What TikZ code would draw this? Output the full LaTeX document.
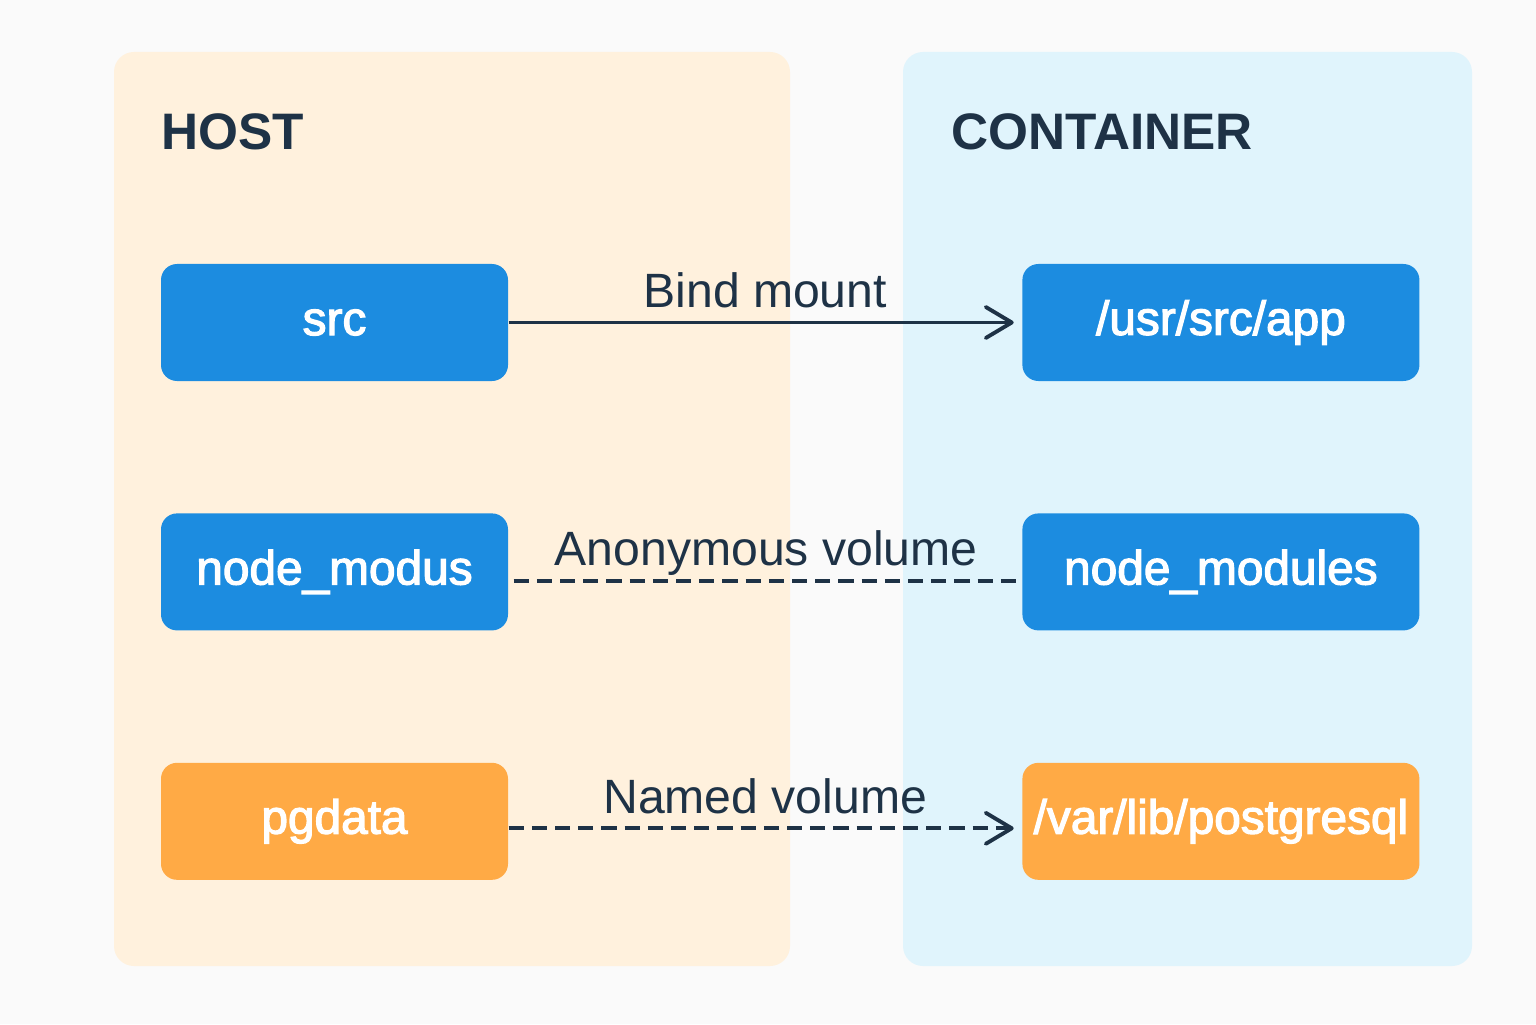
\documentclass[tikz,border=0pt]{standalone}
\usepackage{fontspec}
\setmainfont{Liberation Sans}
\newfontfamily\boxfont[FakeBold=2.5]{Liberation Sans}
\usepackage{xcolor}
\usepackage{tikz}
\usetikzlibrary{arrows.meta, positioning}

\definecolor{pagebg}{HTML}{FAFAFA}
\definecolor{hostbg}{HTML}{FFF1DD}
\definecolor{ctrbg}{HTML}{E0F4FC}
\definecolor{mountblue}{HTML}{1C8CE0}
\definecolor{dataorange}{HTML}{FFAA45}
\definecolor{ink}{HTML}{1E3246}

\tikzset{
    panel/.style={
        rectangle,
        draw=none,
        rounded corners=0.2cm
    },
    paneltitle/.style={
        anchor=west,
        text=ink,
        font=\fontsize{14.6}{18}\selectfont\bfseries
    },
    mountbox/.style={
        rectangle,
        draw=none,
        rounded corners=0.16cm,
        minimum height=1.17cm,
        inner xsep=1pt,
        fill=mountblue,
        text=white,
        font=\boxfont\fontsize{13.6}{16}\selectfont
    },
    databox/.style={
        mountbox,
        fill=dataorange
    },
    link/.style={
        draw=ink,
        line width=1.1pt,
        -{Straight Barb[length=2.6mm, width=3.1mm, line cap=round, line join=round]},
        shorten >=0.08cm
    },
    dashlink/.style={
        link,
        dash pattern=on 4.3pt off 2.3pt
    },
    linklabel/.style={
        midway,
        anchor=base,
        yshift=0.15cm,
        inner sep=0pt,
        text=ink,
        font=\fontsize{13.7}{16}\selectfont
    }
}

\begin{document}
\begin{tikzpicture}

% Background and panels
\fill[pagebg] (0,0) rectangle (15.36,10.24);
\useasboundingbox (0,0) rectangle (15.36,10.24);
\fill[panel, hostbg] (1.14,0.58) rectangle (7.90,9.72);
\fill[panel, ctrbg] (9.03,0.58) rectangle (14.72,9.72);

\node[paneltitle] (host) at (1.49,8.92) {HOST};
\node[paneltitle] (ctr) at (9.39,8.92) {CONTAINER};

% Host side
\node[mountbox, minimum width=3.47cm] (src) at (3.345,7.015) {src};
\node[mountbox, minimum width=3.47cm, below=1.31cm of src] (mods) {node\_modus};
\node[databox, minimum width=3.47cm, below=1.31cm of mods] (pgdata) {pgdata};

% Container side
\node[mountbox, minimum width=3.97cm, right=5.13cm of src] (app) {/usr/src/app};
\node[mountbox, minimum width=3.97cm, right=5.13cm of mods] (cmods) {node\_modules};
\node[databox, minimum width=3.97cm, right=5.13cm of pgdata] (pgsql) {/var/lib/postgresql};

% Mounts
\draw[link] (src.east) -- node[linklabel] {Bind mount} (app.west);
\draw[dashlink, -, shorten >=0pt] ([shift={(0.05,-0.09)}]mods.east) -- node[linklabel] {Anonymous volume} ([shift={(-0.03,-0.09)}]cmods.west);
\draw[dashlink] ([yshift=-0.07cm]pgdata.east) -- node[linklabel] {Named volume} ([yshift=-0.07cm]pgsql.west);

\end{tikzpicture}
\end{document}
